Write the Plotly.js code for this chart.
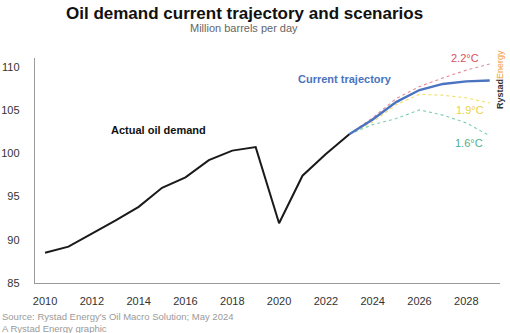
<!DOCTYPE html>
<html>
<head>
<meta charset="utf-8">
<script src="https://cdn.plot.ly/plotly-3.0.1.min.js"></script>
<style>html,body{margin:0;padding:0;background:#fff;}#chart{width:510px;height:333px;}</style>
</head>
<body>
<div id="chart"></div>
<script>
const actualYears = [2010,2011,2012,2013,2014,2015,2016,2017,2018,2019,2020,2021,2022,2023];
const actualDemand = [88.5,89.2,90.7,92.2,93.8,96.0,97.2,99.2,100.3,100.7,91.9,97.4,99.9,102.2];
const scenarioYears = [2023,2024,2025,2026,2027,2028,2029];
const currentTrajectory = [102.2,103.9,105.9,107.3,108.0,108.3,108.4];
const scen22 = [102.2,104.1,106.3,107.7,108.7,109.6,110.3];
const scen19 = [102.2,103.6,105.6,106.8,106.7,106.4,105.8];
const scen16 = [102.2,103.3,104.0,105.0,104.4,103.5,102.0];
const xTicks = [2010,2012,2014,2016,2018,2020,2022,2024,2026,2028];
const yTicks = [85,90,95,100,105,110];

const FONT = 'Liberation Sans, Arial, sans-serif';
const traces = [
  {x: scenarioYears, y: scen16, mode:'lines', line:{color:'#7fcfae', width:1.1, dash:'dot'}, hoverinfo:'skip'},
  {x: scenarioYears, y: scen19, mode:'lines', line:{color:'#f3dc62', width:1.1, dash:'dot'}, hoverinfo:'skip'},
  {x: scenarioYears, y: scen22, mode:'lines', line:{color:'#e58a96', width:1.1, dash:'dot'}, hoverinfo:'skip'},
  {x: scenarioYears, y: currentTrajectory, mode:'lines', line:{color:'#4a73c0', width:2.4}, hoverinfo:'skip'},
  {x: actualYears, y: actualDemand, mode:'lines', line:{color:'#1a1a1a', width:2}, hoverinfo:'skip'}
];

const layout = {
  width:510, height:333,
  margin:{l:35, r:10, t:58, b:50},
  paper_bgcolor:'#fff', plot_bgcolor:'#fff',
  showlegend:false,
  font:{family:FONT, color:'#333'},
  xaxis:{range:[2009.57,2029.44], tickvals:xTicks, showgrid:false, zeroline:false,
         showline:true, linecolor:'#9a9a9a', linewidth:1.2, ticks:'', ticklabelstandoff:8,
         tickfont:{size:11, color:'#333', family:FONT}},
  yaxis:{range:[85,111], tickvals:yTicks, showgrid:false, zeroline:false,
         showline:true, linecolor:'#9a9a9a', linewidth:1.2, ticks:'', ticklabelstandoff:12,
         tickfont:{size:11, color:'#333', family:FONT}},
  annotations:[
    {text:'<b>Oil demand current trajectory and scenarios</b>', xref:'paper', yref:'paper', x:0.45, y:1+ (58-13)/225, xanchor:'center', yanchor:'middle', showarrow:false, font:{size:17, color:'#111', family:FONT}},
    {text:'Million barrels per day', xref:'paper', yref:'paper', x:0.45, y:1+(58-28)/225, xanchor:'center', yanchor:'middle', showarrow:false, font:{size:11, color:'#666', family:FONT}},
    {text:'<b>Actual oil demand</b>', x:2014.83, y:102.7, xanchor:'center', yanchor:'middle', showarrow:false, font:{size:11, color:'#111', family:FONT}},
    {text:'<b>Current trajectory</b>', x:2022.8, y:108.6, xanchor:'center', yanchor:'middle', showarrow:false, font:{size:11, color:'#4a73c0', family:FONT}},
    {text:'2.2°C', x:2027.95, y:111.0, xanchor:'center', yanchor:'middle', showarrow:false, font:{size:11, color:'#d9515f', family:FONT}},
    {text:'1.9°C', x:2028.16, y:105.0, xanchor:'center', yanchor:'middle', showarrow:false, font:{size:11, color:'#ead24a', family:FONT}},
    {text:'1.6°C', x:2028.1, y:101.2, xanchor:'center', yanchor:'middle', showarrow:false, font:{size:11, color:'#4fb08a', family:FONT}},
    {text:'<b>Rystad</b><span style="color:#f0a040">Energy</span>', xref:'paper', yref:'paper', x:1, y:1-(80-58)/225, xanchor:'center', yanchor:'middle', textangle:-90, showarrow:false, font:{size:9, color:'#333', family:FONT}},
    {text:"Source: Rystad Energy's Oil Macro Solution; May 2024<br>A Rystad Energy graphic", xref:'paper', yref:'paper', x:-35/465, y:-(322.5-283)/225, xanchor:'left', yanchor:'middle', align:'left', showarrow:false, font:{size:9.5, color:'#9a9a9a', family:FONT}}
  ]
};
Plotly.newPlot('chart', traces, layout, {staticPlot:true, displayModeBar:false});
</script>
</body>
</html>
